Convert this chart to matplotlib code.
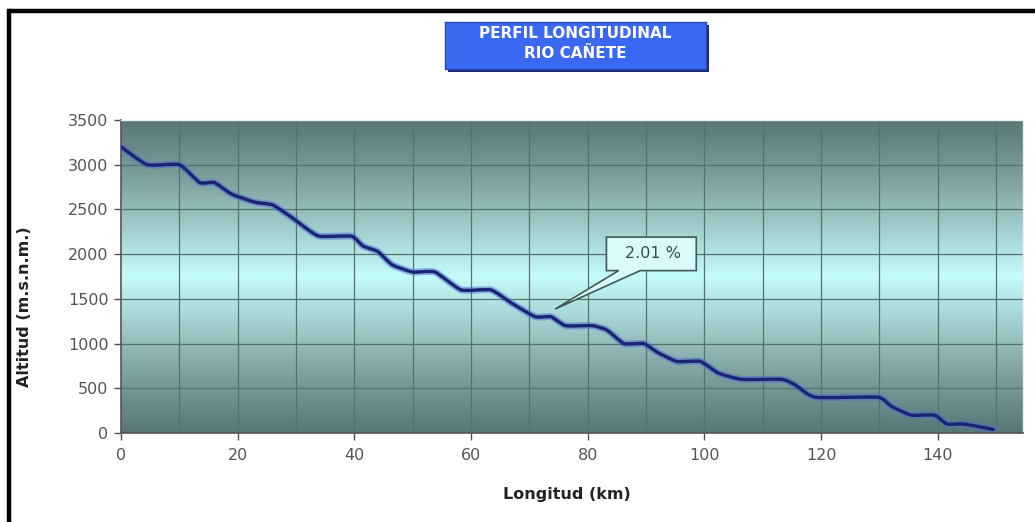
import numpy as np
import matplotlib
matplotlib.use("Agg")
import matplotlib.pyplot as plt
from matplotlib.patches import Rectangle, Polygon, PathPatch
from matplotlib.path import Path
from matplotlib.colors import LinearSegmentedColormap

# Longitudinal profile of the Cañete river
distance_km = [0, 4.5, 10, 13.5, 16, 19, 23, 26, 29.5, 31.5, 34, 39.5, 41.5, 44,
               46.5, 50, 53.8, 58.3, 63.4, 67, 71, 73.7, 76.2, 80.8, 83.3, 86.2,
               89.6, 92, 95.3, 99.3, 102.4, 106.4, 113.2, 115.5, 119, 129.7, 132,
               135.4, 139.4, 141.6, 144.5, 149.5]
altitude_m = [3200, 3000, 3000, 2800, 2800, 2670, 2580, 2550, 2400, 2300, 2200,
              2200, 2090, 2030, 1880, 1800, 1800, 1600, 1600, 1450, 1300, 1300,
              1200, 1200, 1150, 1000, 1000, 900, 800, 800, 670, 600, 600, 540,
              400, 400, 300, 200, 200, 100, 100, 40]

x_ticks = [0, 20, 40, 60, 80, 100, 120, 140]
y_ticks = [0, 500, 1000, 1500, 2000, 2500, 3000, 3500]
title_lines = ["PERFIL LONGITUDINAL", "RIO CAÑETE"]
slope_label = "2.01 %"
x_label = "Longitud (km)"
y_label = "Altitud (m.s.n.m.)"

X_MAX = 154.6
Y_MAX = 3500


def smooth_path(xs, ys, tension=0.09):
    """Gently smoothed line through the points, as cubic Bezier segments."""
    p = np.column_stack([xs, ys]).astype(float)
    verts = [p[0]]
    codes = [Path.MOVETO]
    n = len(p)
    for i in range(n - 1):
        p0 = p[i - 1] if i > 0 else p[i]
        p1, p2 = p[i], p[i + 1]
        p3 = p[i + 2] if i + 2 < n else p[i + 1]
        c1 = p1 + (p2 - p0) * tension
        c2 = p2 - (p3 - p1) * tension
        verts += [c1, c2, p2]
        codes += [Path.CURVE4] * 3
    return Path(verts, codes)


fig = plt.figure(figsize=(10.35, 5.22), dpi=100)
fig.patch.set_facecolor("white")
ax = fig.add_axes([121 / 1035, 1 - 433 / 522, (1023 - 121) / 1035, (433 - 120) / 522])

# plot-area background: dark at the edges, pale cyan in the middle
grad_cmap = LinearSegmentedColormap.from_list(
    "band", [(0.0, "#587775"), (0.2, "#80a4a2"), (0.5, "#c4fbfb"),
             (0.8, "#80a4a2"), (1.0, "#587775")])
grad = np.linspace(0, 1, 400).reshape(-1, 1)
ax.imshow(grad, cmap=grad_cmap, extent=[0, X_MAX, 0, Y_MAX], aspect="auto",
          origin="lower", zorder=0, interpolation="bilinear")

ax.set_xlim(0, X_MAX)
ax.set_ylim(0, Y_MAX)

# grid
for gx in np.arange(10, X_MAX, 10):
    ax.axvline(gx, color="#557270", lw=0.9, zorder=1)
for gy in y_ticks[1:-1]:
    ax.axhline(gy, color="#557270", lw=0.9, zorder=1)

# profile line with a soft blue halo
profile = smooth_path(distance_km, altitude_m)
ax.add_patch(PathPatch(profile, facecolor="none", edgecolor="#4a6ad8", lw=5.0,
                       alpha=0.5, capstyle="round", joinstyle="round", zorder=3))
ax.add_patch(PathPatch(profile, facecolor="none", edgecolor="#1b2470", lw=2.4,
                       capstyle="round", joinstyle="round", zorder=4))

# slope callout
bx0, bx1, by0, by1 = 83.2, 98.6, 1816, 2190
tip = (74.4, 1386)
callout = Polygon([(bx0, by1), (bx1, by1), (bx1, by0), (89.0, by0), tip,
                   (85.3, by0), (bx0, by0)], closed=True,
                  facecolor="#d9fbfb", edgecolor="#3f5a58", lw=1.2, zorder=5)
ax.add_patch(callout)
ax.text((bx0 + bx1) / 2 + 0.3, (by0 + by1) / 2, slope_label, ha="center",
        va="center", fontsize=11.5, color="#3a4a4a", zorder=6)

# axes styling
ax.set_xticks(x_ticks)
ax.set_yticks(y_ticks)
ax.set_xticklabels([str(v) for v in x_ticks])
ax.set_yticklabels([str(v) for v in y_ticks])
ax.tick_params(axis="both", direction="out", length=5, width=1.0,
               color="#555555", labelcolor="#555555", labelsize=11.5)
ax.tick_params(axis="x", pad=6)
ax.tick_params(axis="y", pad=4)
for s in ["left", "bottom"]:
    ax.spines[s].set_color("#555555")
    ax.spines[s].set_linewidth(1.2)
for s in ["top", "right"]:
    ax.spines[s].set_color("#e8f0f0")
    ax.spines[s].set_linewidth(1.0)

fig.text(567 / 1035, 1 - 495 / 522, x_label, ha="center", va="center",
         fontsize=11.5, fontweight="bold", color="#222222")
fig.text(25 / 1035, 1 - 307 / 522, y_label, ha="center", va="center",
         rotation=90, fontsize=11.5, fontweight="bold", color="#222222")

# title box with shadow
tx0, tx1, ty0, ty1 = 445, 706, 22, 69
fig.patches.append(Rectangle((tx0 / 1035 + 3 / 1035, 1 - (ty1 + 3) / 522),
                             (tx1 - tx0) / 1035, (ty1 - ty0) / 522,
                             transform=fig.transFigure, facecolor="#1a2a78",
                             edgecolor="none", zorder=1))
fig.patches.append(Rectangle((tx0 / 1035, 1 - ty1 / 522), (tx1 - tx0) / 1035,
                             (ty1 - ty0) / 522, transform=fig.transFigure,
                             facecolor="#3a68f2", edgecolor="#2a48b0", lw=1,
                             zorder=2))
fig.text((tx0 + tx1) / 2 / 1035, 1 - 34 / 522, title_lines[0], ha="center",
         va="center", fontsize=11, fontweight="bold", color="white", zorder=3)
fig.text((tx0 + tx1) / 2 / 1035, 1 - 54 / 522, title_lines[1], ha="center",
         va="center", fontsize=11, fontweight="bold", color="white", zorder=3)

# frame lines along the top and left of the figure
fig.add_artist(plt.Line2D([9 / 1035, 1.0], [1 - 11 / 522, 1 - 11 / 522],
                          transform=fig.transFigure, color="black", lw=3.2,
                          solid_capstyle="butt"))
fig.add_artist(plt.Line2D([9 / 1035, 9 / 1035], [0.0, 1 - 11 / 522],
                          transform=fig.transFigure, color="black", lw=3.2,
                          solid_capstyle="projecting"))

fig.savefig("out.png", dpi=100)
